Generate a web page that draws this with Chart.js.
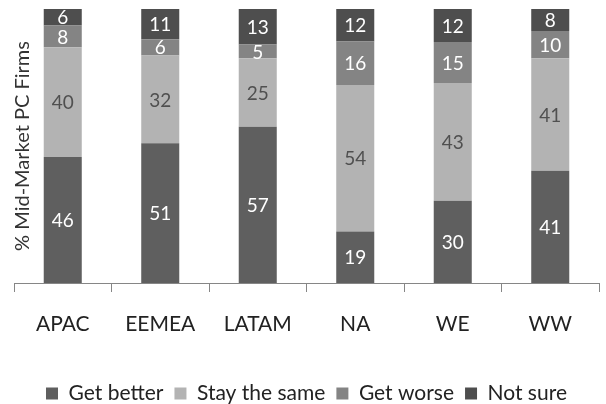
<!DOCTYPE html>
<html>
<head>
<meta charset="utf-8">
<script src="https://cdn.jsdelivr.net/npm/chart.js@4.4.0/dist/chart.umd.min.js"></script>
<style>
  html, body { margin: 0; padding: 0; background: #ffffff; }
  #wrap { width: 606px; height: 404px; }
</style>
</head>
<body>
<div id="wrap"><canvas id="c" width="606" height="404"></canvas></div>
<script>
// Survey outlook by region (% of mid-market PC firms)
const regions   = ['APAC', 'EEMEA', 'LATAM', 'NA', 'WE', 'WW'];
const getBetter = [46, 51, 57, 19, 30, 41];
const staySame  = [40, 32, 25, 54, 43, 41];
const getWorse  = [8, 6, 5, 16, 15, 10];
const notSure   = [6, 11, 13, 12, 12, 8];
const yTitle = '% Mid-Market PC Firms';

const FONT = 'Lato, "Open Sans", sans-serif';

// 100% stacked: each column is scaled to its own total
const totals = regions.map((_, i) => getBetter[i] + staySame[i] + getWorse[i] + notSure[i]);
const share = arr => arr.map((v, i) => v / totals[i] * 100);

const series = [
  { label: 'Get better',    raw: getBetter, color: '#5f5f5f', text: '#ffffff' },
  { label: 'Stay the same', raw: staySame,  color: '#b3b3b3', text: '#505050' },
  { label: 'Get worse',     raw: getWorse,  color: '#848484', text: '#ffffff' },
  { label: 'Not sure',      raw: notSure,   color: '#4e4e4e', text: '#ffffff' }
];

// Writes each segment's value in the middle of the segment
const valueLabels = {
  id: 'valueLabels',
  afterDatasetsDraw(chart) {
    const ctx = chart.ctx;
    ctx.save();
    ctx.font = '19px ' + FONT;
    ctx.textAlign = 'center';
    ctx.textBaseline = 'middle';
    chart.data.datasets.forEach((ds, di) => {
      const meta = chart.getDatasetMeta(di);
      meta.data.forEach((bar, i) => {
        const p = bar.getProps(['x', 'y', 'base'], true);
        ctx.fillStyle = series[di].text;
        ctx.fillText(String(ds.raw[i]), p.x, (p.y + p.base) / 2 + 1);
      });
    });
    ctx.restore();
  }
};

// Rotated value-axis title drawn beside the plot
const sideTitle = {
  id: 'sideTitle',
  afterDraw(chart) {
    const ctx = chart.ctx;
    const area = chart.chartArea;
    ctx.save();
    ctx.translate(23, (area.top + area.bottom) / 2);
    ctx.rotate(-Math.PI / 2);
    ctx.font = '20px ' + FONT;
    ctx.fillStyle = '#333333';
    ctx.textAlign = 'center';
    ctx.textBaseline = 'middle';
    ctx.fillText(yTitle, 0, 0);
    ctx.restore();
  }
};

new Chart(document.getElementById('c'), {
  type: 'bar',
  data: {
    labels: regions,
    datasets: series.map(s => ({
      label: s.label,
      data: share(s.raw),
      raw: s.raw,
      backgroundColor: s.color,
      borderWidth: 0,
      categoryPercentage: 1,
      barPercentage: 0.39
    }))
  },
  options: {
    responsive: false,
    animation: false,
    devicePixelRatio: 1,
    layout: { padding: { left: 14, right: 7, top: 9, bottom: -10 } },
    plugins: {
      legend: {
        position: 'bottom',
        labels: {
          font: { family: FONT, size: 21 },
          color: '#222222',
          boxWidth: 12,
          boxHeight: 12,
          padding: 11
        }
      },
      tooltip: { enabled: false },
      title: { display: false }
    },
    scales: {
      x: {
        stacked: true,
        grid: {
          display: true,
          drawOnChartArea: false,
          drawTicks: true,
          tickLength: 9,
          color: '#868686',
          offset: true
        },
        border: { display: true, color: '#868686', width: 1 },
        ticks: {
          font: { family: FONT, size: 21 },
          color: '#222222',
          padding: 20
        },
        afterFit(scale) { scale.height = 89; }
      },
      y: {
        stacked: true,
        display: false,
        min: 0,
        max: 100
      }
    }
  },
  plugins: [valueLabels, sideTitle]
});
</script>
</body>
</html>
